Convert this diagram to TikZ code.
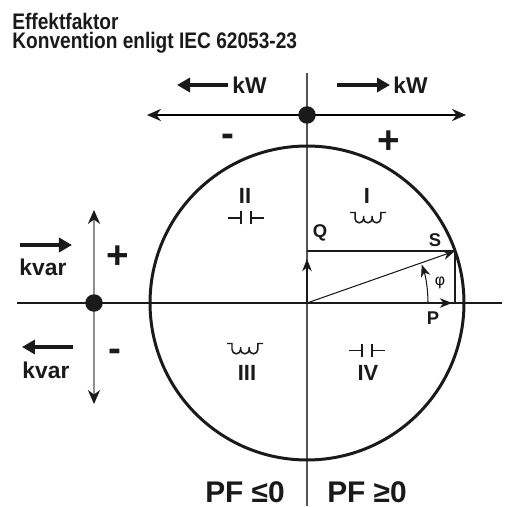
\documentclass[tikz,border=0pt]{standalone}
\usepackage{fontspec}
\setmainfont{Liberation Sans}
\newfontfamily\condfont{Liberation Sans}[FakeStretch=0.85]
\usetikzlibrary{arrows.meta,positioning}
\definecolor{InkBlack}{HTML}{1A1A1A}
\definecolor{AxisGray}{HTML}{555555}
\definecolor{ArrowGray}{HTML}{8E8E8E}

\begin{document}
\begin{tikzpicture}[
        x=0.02cm, y=0.02cm,
        titletext/.style={font=\condfont\bfseries\fontsize{12.8}{10.9}\selectfont, inner sep=0pt, anchor=north west, align=left, text=InkBlack},
        biglabel/.style={font=\bfseries\fontsize{13}{15}\selectfont, inner sep=0pt, text=InkBlack},
        sign/.style={font=\bfseries\fontsize{22}{24}\selectfont, inner sep=0pt, text=InkBlack},
        quad/.style={font=\bfseries\fontsize{12.5}{14}\selectfont, inner sep=0pt, text=InkBlack},
        vlabel/.style={font=\bfseries\fontsize{10.5}{12}\selectfont, inner sep=0pt, text=InkBlack},
        pftext/.style={font=\bfseries\fontsize{17}{20}\selectfont, inner sep=0pt, anchor=base, text=InkBlack},
        axis/.style={line width=0.9pt, InkBlack},
        vaxis/.style={line width=1.1pt, AxisGray},
        ring/.style={line width=1.7pt, InkBlack},
        dot/.style={circle, fill=InkBlack, minimum size=0.35cm, inner sep=0pt},
        thinarrow/.style={{Stealth[length=8pt, width=7pt, color=InkBlack]}-{Stealth[length=8pt, width=7pt, color=InkBlack]}, line width=0.7pt},
        fatarrow/.style={-{Triangle[length=7.4pt, width=8pt]}, line width=2.8pt, InkBlack},
        vec/.style={-{Stealth[length=7pt, width=5.5pt]}, line width=0.6pt, InkBlack},
        symbol/.style={line width=0.85pt, InkBlack},
        capacitor/.pic={
          \draw[symbol] (-18,0) -- (-5,0) (-5,-6.5) -- (-5,6.5) (5,-6.5) -- (5,6.5) (5,0) -- (18,0);
        },
        inductor/.pic={
          \draw[symbol] (-18,5) -- (-13,5) -- (-13,-1)
            arc[start angle=180, end angle=360, radius=0.086cm] -- (-4.4,1.5) -- (-4.4,-1)
            arc[start angle=180, end angle=360, radius=0.086cm] -- (4.2,1.5) -- (4.2,-1)
            arc[start angle=180, end angle=360, radius=0.086cm] -- (12.8,5) -- (18,5);
        }
      ]
        \useasboundingbox (-307,-203) rectangle (202,303);

        % Title
        \node[titletext] (title) at (-295,290) {Effektfaktor\\Konvention enligt IEC 62053-23};

        % Axes and circle
        \coordinate (O) at (0,0);
        \coordinate (vtop) at (0,230);
        \coordinate (vbot) at (0,-203);
        \coordinate (hleft) at (-290,0);
        \coordinate (hright) at (195,0);
        \draw[vaxis] (vtop) -- (vbot);
        \draw[axis] (hleft) -- (hright);
        \draw[ring] (O) circle[radius=3.14cm];

        % kW scale on top
        \coordinate (kwL) at (-160,188);
        \coordinate (kwR) at (159,188);
        \draw[thinarrow] (kwL) -- (kwR);
        \node[dot] (kwdot) at (0,188) {};

        \coordinate (kwinS) at (-79,218);
        \coordinate (kwinE) at (-130,218);
        \draw[fatarrow] (kwinS) -- (kwinE);
        \node[biglabel, right=0.08cm of kwinS] (kwin) {kW};
        \coordinate (kwoutS) at (30,218);
        \coordinate (kwoutE) at (83,218);
        \draw[fatarrow] (kwoutS) -- (kwoutE);
        \node[biglabel, right=0.06cm of kwoutE] (kwout) {kW};

        \node[sign] (kwminus) at (-79,163) {-};
        \node[sign] (kwplus) at (82,161) {+};

        % kvar scale on the left
        \coordinate (kvT) at (-213,93);
        \coordinate (kvB) at (-213,-101);
        \draw[thinarrow, ArrowGray] (kvB) -- (kvT);
        \node[dot] (kvdot) at (-213,0) {};

        \coordinate (kvinS) at (-287,58);
        \coordinate (kvinE) at (-235,58);
        \draw[fatarrow] (kvinS) -- (kvinE);
        \node[biglabel] (kvin) at (-264,36) {kvar};
        \coordinate (kvoutS) at (-234,-44);
        \coordinate (kvoutE) at (-285,-44);
        \draw[fatarrow] (kvoutS) -- (kvoutE);
        \node[biglabel] (kvout) at (-261,-67) {kvar};

        \node[sign] (kvplus) at (-189,46) {+};
        \node[sign] (kvminus) at (-192,-52) {-};

        % Quadrants
        \node[quad] (qI) at (60,107) {I};
        \pic (indI) at (61,85.5) {inductor};
        \node[quad] (qII) at (-62,107) {II};
        \pic (capII) at (-61,85) {capacitor};
        \pic (indIII) at (-62,-45.5) {inductor};
        \node[quad] (qIII) at (-60,-70) {III};
        \pic (capIV) at (60,-47.5) {capacitor};
        \node[quad] (qIV) at (61,-70) {IV};

        % Power triangle
        \coordinate (S) at (148,52);
        \coordinate (Qend) at (0,52);
        \coordinate (Qtip) at (0,44);
        \coordinate (Ptip) at (145,0);
        \coordinate (Pfoot) at (148,0);
        \coordinate (phistart) at (121,0);
        \draw[line width=0.6pt, InkBlack] (Qend) -- (S) -- (Pfoot);
        \draw[vec] (O) -- (S);
        \draw[vec] (O) -- (Qtip);
        \draw[vec] (O) -- (Ptip);
        \draw[vec] (phistart) arc[start angle=0, end angle=18.5, radius=2.42cm];
        \node[vlabel] (Qlabel) at (13,70) {Q};
        \node[vlabel] (Slabel) at (128,63) {S};
        \node[vlabel] (Plabel) at (126,-15) {P};
        \node[font=\fontsize{9}{10}\selectfont, inner sep=0pt] (philabel) at (133,20) {φ};

        % Power factor
        \node[pftext] (pfneg) at (-62,-199) {PF ≤0};
        \node[pftext] (pfpos) at (60,-199) {PF ≥0};
      \end{tikzpicture}
\end{document}
